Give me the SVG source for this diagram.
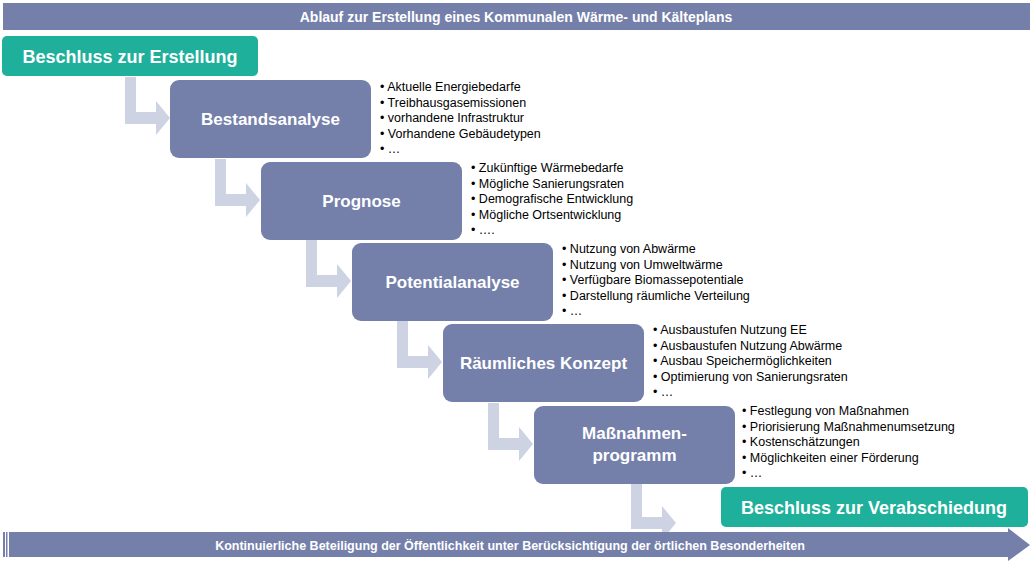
<svg xmlns="http://www.w3.org/2000/svg" width="1034" height="562" viewBox="0 0 1034 562">
<defs>
<style>
.step{fill:#7480aa}
.green{fill:#1fb09b}
.t{font-family:"Liberation Sans",Arial,sans-serif;fill:#fff;font-weight:bold;text-anchor:middle}
.b{font-family:"Liberation Sans",Arial,sans-serif;fill:#000;font-size:12.5px}
.conn{fill:#cdd3e3}
</style>
<path id="el" d="M0,0 h11 v35 h20 v-11 l14,17 l-14,17 v-11 h-31 z"/>
</defs>
<rect x="3" y="3" width="1027" height="27" class="step"/>
<text x="516" y="21.5" class="t" font-size="14">Ablauf zur Erstellung eines Kommunalen Wärme- und Kälteplans</text>
<g id="connectors" class="conn">
<use href="#el" x="125" y="77"/>
<use href="#el" x="215" y="159"/>
<use href="#el" x="306" y="240"/>
<use href="#el" x="397" y="321"/>
<use href="#el" x="488" y="403"/>
<use href="#el" x="631" y="484" transform="translate(0,-2)"/>
</g>
<g id="n0"><rect x="2" y="36" width="256" height="40" rx="5" class="green"/><text x="130" y="63" class="t" font-size="18">Beschluss zur Erstellung</text></g>
<g id="n1"><rect x="170" y="80" width="201" height="78" rx="9" class="step"/><text x="270.5" y="125" class="t" font-size="17">Bestandsanalyse</text>
<text class="b" x="380"><tspan x="380" y="91">• Aktuelle Energiebedarfe</tspan><tspan x="380" y="106.5">• Treibhausgasemissionen</tspan><tspan x="380" y="122">• vorhandene Infrastruktur</tspan><tspan x="380" y="137.5">• Vorhandene Gebäudetypen</tspan><tspan x="380" y="153">• …</tspan></text></g>
<g id="n2"><rect x="261" y="162" width="201" height="78" rx="9" class="step"/><text x="361.5" y="207" class="t" font-size="17">Prognose</text>
<text class="b"><tspan x="471" y="172">• Zukünftige Wärmebedarfe</tspan><tspan x="471" y="187.5">• Mögliche Sanierungsraten</tspan><tspan x="471" y="203">• Demografische Entwicklung</tspan><tspan x="471" y="218.5">• Mögliche Ortsentwicklung</tspan><tspan x="471" y="234">• ….</tspan></text></g>
<g id="n3"><rect x="352" y="243" width="201" height="78" rx="9" class="step"/><text x="452.5" y="288" class="t" font-size="17">Potentialanalyse</text>
<text class="b"><tspan x="562" y="253">• Nutzung von Abwärme</tspan><tspan x="562" y="268.5">• Nutzung von Umweltwärme</tspan><tspan x="562" y="284">• Verfügbare Biomassepotentiale</tspan><tspan x="562" y="299.5">• Darstellung räumliche Verteilung</tspan><tspan x="562" y="315">• …</tspan></text></g>
<g id="n4"><rect x="443" y="324" width="201" height="78" rx="9" class="step"/><text x="543.5" y="369" class="t" font-size="17">Räumliches Konzept</text>
<text class="b"><tspan x="653" y="334">• Ausbaustufen Nutzung EE</tspan><tspan x="653" y="349.5">• Ausbaustufen Nutzung Abwärme</tspan><tspan x="653" y="365">• Ausbau Speichermöglichkeiten</tspan><tspan x="653" y="380.5">• Optimierung von Sanierungsraten</tspan><tspan x="653" y="396">• …</tspan></text></g>
<g id="n5"><rect x="534" y="406" width="201" height="78" rx="9" class="step"/><text class="t" font-size="17"><tspan x="634.5" y="439">Maßnahmen-</tspan><tspan x="634.5" y="461">programm</tspan></text>
<text class="b"><tspan x="742" y="415">• Festlegung von Maßnahmen</tspan><tspan x="742" y="430.5">• Priorisierung Maßnahmenumsetzung</tspan><tspan x="742" y="446">• Kostenschätzungen</tspan><tspan x="742" y="461.5">• Möglichkeiten einer Förderung</tspan><tspan x="742" y="477">• …</tspan></text></g>
<g id="n6"><rect x="721" y="487" width="307" height="40" rx="5" class="green"/><text x="874" y="513.5" class="t" font-size="18">Beschluss zur Verabschiedung</text></g>
<g id="band">
<rect x="3" y="532" width="2" height="25" class="step"/><rect x="6" y="532" width="1.5" height="25" class="step"/>
<path d="M9,532 H1008 V528 L1030,545 L1008,561 V557 H9 Z" class="step"/>
<text x="510" y="549.5" class="t" font-size="12.5">Kontinuierliche Beteiligung der Öffentlichkeit unter Berücksichtigung der örtlichen Besonderheiten</text>
</g>
</svg>
